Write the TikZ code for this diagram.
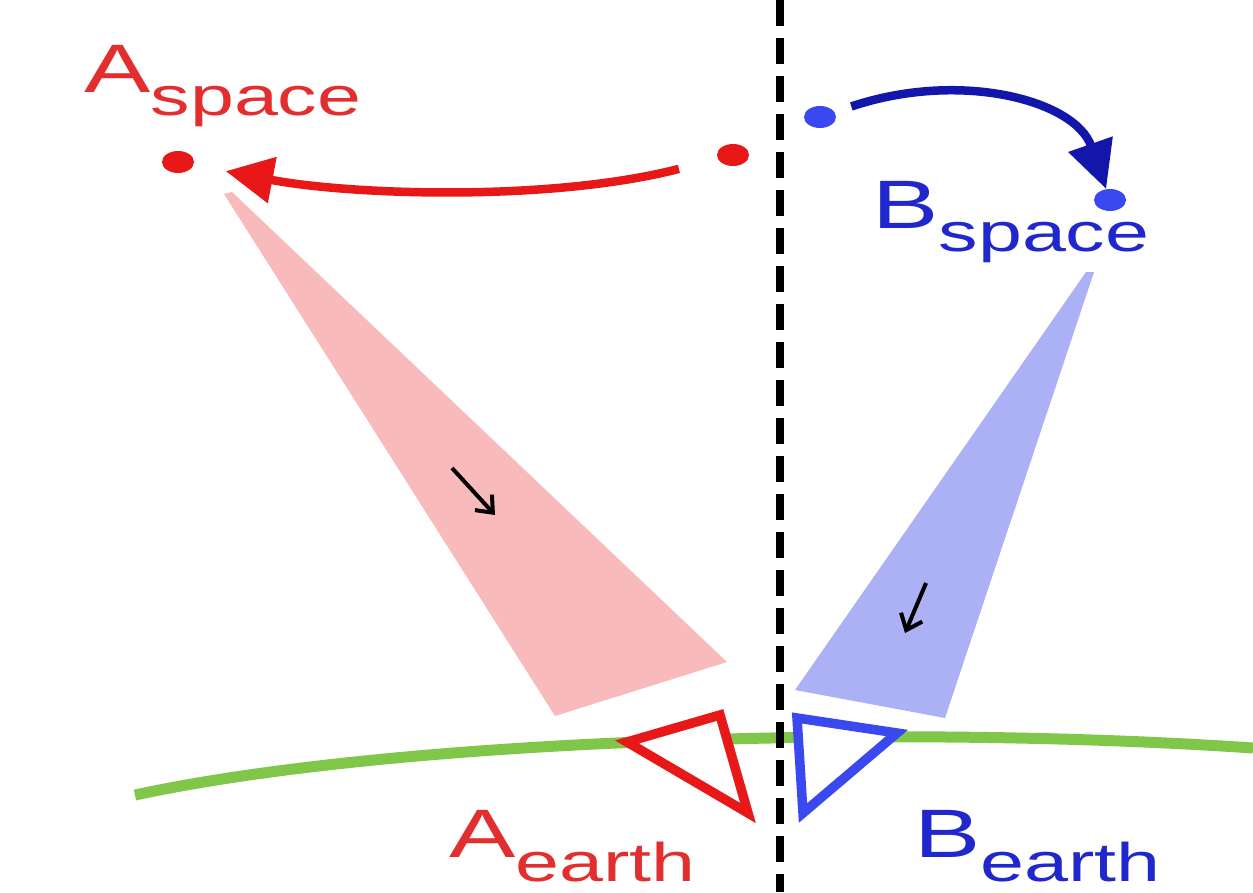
\documentclass[tikz,border=0pt]{standalone}
\usepackage{fontspec}
\setmainfont{Liberation Sans}
\usetikzlibrary{arrows.meta,shapes.geometric}
\definecolor{spred}{RGB}{232,24,24}
\definecolor{txtred}{RGB}{226,46,46}
\definecolor{spblue}{RGB}{58,72,240}
\definecolor{darkblue}{RGB}{18,22,170}
\definecolor{txtblue}{RGB}{32,40,205}
\definecolor{beamred}{RGB}{248,186,186}
\definecolor{beamblue}{RGB}{172,176,245}
\definecolor{ground}{RGB}{128,198,72}
\newcommand{\sitelabel}[2]{\scalebox{1.45}[1]{{\fontsize{39}{39}\selectfont #1}\raisebox{-0.48cm}{\fontsize{31}{31}\selectfont #2}}}
\tikzset{
  dot/.style={ellipse,fill,minimum width=0.64cm,minimum height=0.44cm,inner sep=0pt},
  antenna/.style={line width=0.19cm,line join=miter,fill=white},
  hop/.style={line width=0.17cm,-{Triangle[length=0.95cm,width=0.9cm]}},
  flow/.style={line width=0.08cm,-{Straight Barb[length=0.28cm,width=0.46cm]}},
  sitename/.style={anchor=base west,inner sep=0pt}
}
\begin{document}
\begin{tikzpicture}[x=0.02cm,y=-0.02cm]
\useasboundingbox (0,0) rectangle (1253,892);

\fill[beamred] (224,194) -- (232,192) -- (727,662) -- (555,716) -- cycle;
\fill[beamblue] (1086,272) -- (1094,272) -- (945,718) -- (795,690) -- cycle;

\draw[ground,line width=0.22cm] (135,795) .. controls (400,738) and (900,724) .. (1253,748);

\draw[line width=0.16cm,dash pattern=on 0.52cm off 0.24cm] (780,0) -- (780,892);

\draw[antenna,draw=spred] (627,742) -- (720,715) -- (748,813) -- cycle;
\draw[antenna,draw=spblue] (797,718) -- (897,733) -- (803,813) -- cycle;

\node[dot,spred] (aspace) at (178,162) {};
\node[dot,spred] (aorig) at (733,155) {};
\node[dot,spblue] (borig) at (820,117) {};
\node[dot,spblue] (bspace) at (1110,200) {};

\draw[hop,spred,shorten <=0.8cm,shorten >=0.65cm] (aorig) .. controls (550,202) and (350,195) .. (aspace);
\draw[hop,darkblue,shorten <=0.35cm] (borig) .. controls (960,70) and (1075,100) .. (bspace);

\draw[flow] (452,468) -- (495,515);
\draw[flow] (926,583) -- (905,633);

\node[sitename,txtred] (alabel) at (84,92) {\sitelabel{A}{space}};
\node[sitename,txtblue] (blabel) at (872,228) {\sitelabel{B}{space}};
\node[sitename,txtred] (aearth) at (449,857) {\sitelabel{A}{earth}};
\node[sitename,txtblue] (bearth) at (914,857) {\sitelabel{B}{earth}};
\end{tikzpicture}
\end{document}
